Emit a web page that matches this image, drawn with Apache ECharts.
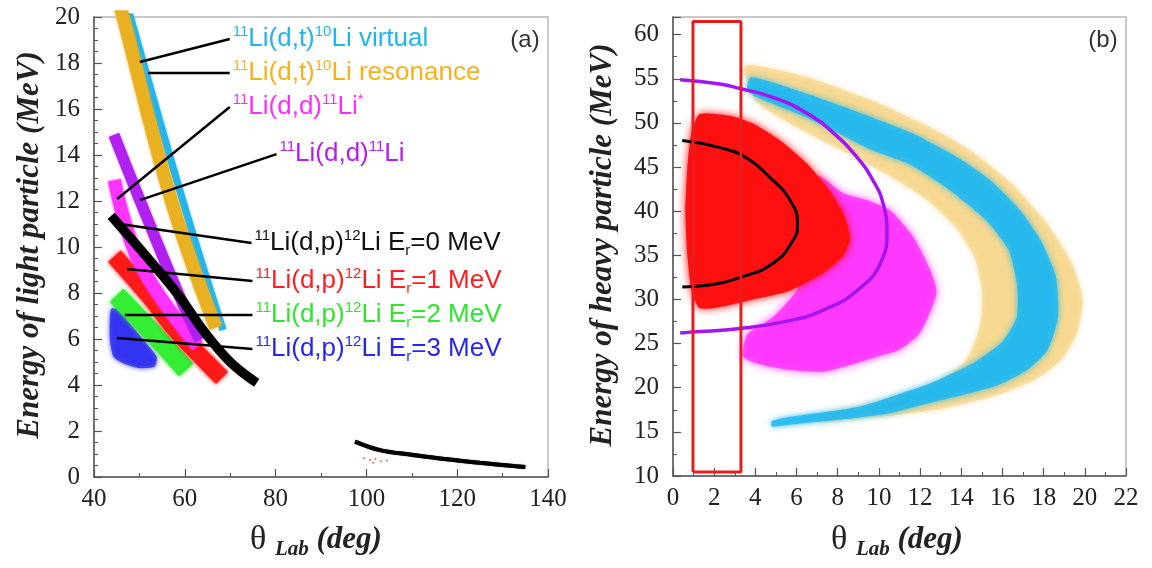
<!DOCTYPE html>
<html>
<head>
<meta charset="utf-8">
<script src="https://cdn.jsdelivr.net/npm/echarts@6.0.0/dist/echarts.min.js"></script>
<style>
  html, body { margin: 0; background: #fff; }
  #chart { width: 1152px; height: 568px; }
</style>
</head>
<body>
<div id="chart"></div>
<script>
// ---- panel (a): energy of light particle vs theta_lab ----
const bandVirtual = [[47.3, 20.5], [48.0, 20], [59.5, 12.04], [68.4, 6.4]];
const bandResonance = [[45.7, 20.5], [46.4, 20], [57.0, 12.04], [66.8, 6.5]];
const bandElastic = [[44.4, 14.87], [50.1, 12.04], [58.9, 7.83], [63.3, 5.96]];
const bandInelastic = [[44.5, 12.9], [50.1, 9.3], [62.8, 5.7]];
const bandEr0 = [[43.8, 11.35], [52.8, 9.3], [58.9, 7.83], [64.0, 6.39], [70.0, 5.0], [75.8, 4.1]];
const bandEr1 = [[44.5, 9.6], [52.3, 7.83], [58.0, 6.39], [64.9, 4.96], [68.2, 4.3]];
const bandEr2 = [[45.0, 7.9], [52.3, 6.39], [58.9, 4.96], [60.3, 4.65]];
const blobEr3 = [[43.9, 7.33], [45.7, 7.26], [47.9, 6.68], [50.9, 5.96], [53.8, 5.23], [53.4, 4.8],
  [50.1, 4.73], [46.5, 4.94], [44.3, 5.23], [43.5, 5.96], [43.5, 6.97]];
const tailEr0 = [[97.5, 1.54], [103.0, 1.17], [110.3, 0.96], [117.7, 0.77], [125.0, 0.62], [132.4, 0.48], [135.0, 0.44]];
const tailDots = [[99.5, 0.82], [100.8, 0.74], [102.0, 0.78], [103.2, 0.68], [104.5, 0.72], [101.5, 0.62]];

// leader lines [from, to] and their labels
const leaderLines = [
  [[50.1, 18.04], [69.9, 19.04]],
  [[51.9, 17.57], [69.9, 17.57]],
  [[45.1, 12.09], [69.9, 16.09]],
  [[50.1, 12.04], [80.2, 14.04]],
  [[45.7, 11.0], [74.7, 10.17]],
  [[47.3, 9.04], [74.9, 8.52]],
  [[46.8, 7.04], [74.9, 7.04]],
  [[45.1, 6.04], [74.9, 5.57]]
];
const leaderTexts = [
  '{u|11}{n|Li(d,t)}{u|10}{n|Li virtual}',
  '{u|11}{n|Li(d,t)}{u|10}{n|Li resonance}',
  '{u|11}{n|Li(d,d)}{u|11}{n|Li}{u|*}',
  '{u|11}{n|Li(d,d)}{u|11}{n|Li}',
  '{u|11}{n|Li(d,p)}{u|12}{n|Li E}{d|r}{n|=0 MeV}',
  '{u|11}{n|Li(d,p)}{u|12}{n|Li E}{d|r}{n|=1 MeV}',
  '{u|11}{n|Li(d,p)}{u|12}{n|Li E}{d|r}{n|=2 MeV}',
  '{u|11}{n|Li(d,p)}{u|12}{n|Li E}{d|r}{n|=3 MeV}'
];
const leaderColors = ['#22b4ee', '#f5b21c', '#ff2cff', '#b41ef2', '#111111', '#ff1e1e', '#2ee62e', '#2626ee'];

// ---- panel (b): energy of heavy particle vs theta_lab ----
const cyanArc = [[3.8, 55.2], [6.5, 53.3], [9.7, 50.6], [11.65, 48.8], [13.8, 46.1], [15.4, 43.5], [16.85, 40.1],
  [17.9, 36.5], [18.6, 32.5], [18.7, 28.0], [18.2, 24.3], [17.2, 22.0], [15.8, 20.3], [14.6, 19.5], [12.5, 18.3],
  [10.5, 17.1], [8.94, 16.6], [5.68, 15.8], [4.8, 15.6],
  [4.8, 16.2], [5.68, 16.7], [8.94, 17.8], [10.5, 18.9], [12.5, 20.5], [14.6, 22.8], [16.0, 25.2], [16.7, 28.0],
  [16.7, 31.8], [16.3, 35.6], [15.2, 39.0], [13.2, 42.8], [11.5, 45.3], [9.7, 46.9], [6.5, 50.6], [4.1, 52.9], [3.6, 53.8]];
const orangeArc = [[3.5, 56.5], [6.5, 55.2], [9.7, 52.5], [12.5, 49.5], [14.5, 46.8], [16.5, 43.0], [18.2, 38.5],
  [19.4, 34.0], [19.9, 30.0], [19.6, 26.0], [18.8, 23.0], [17.5, 20.8], [15.5, 19.0], [13.0, 17.6], [10.0, 16.7], [7.0, 16.1],
  [7.0, 16.9], [10.0, 18.4], [12.5, 20.3], [14.2, 23.0], [14.9, 27.0], [15.0, 31.0], [14.6, 35.0], [13.6, 38.5],
  [12.2, 41.5], [10.5, 44.0], [8.5, 46.5], [6.0, 49.5], [4.0, 52.5]];
const redCloud = [[0.9, 49.0], [1.3, 51.0], [2.77, 50.8], [3.9, 49.9], [5.2, 48.0], [6.5, 45.4], [7.48, 42.7],
  [8.26, 39.8], [8.6, 37.0], [8.3, 35.0], [7.3, 33.0], [5.68, 31.0], [4.08, 30.1], [2.43, 29.2], [1.3, 29.0],
  [0.9, 31.0], [0.7, 35.0], [0.6, 40.0], [0.7, 45.0]];
const magentaCloud = [[7.0, 44.0], [8.3, 42.0], [9.5, 41.2], [10.6, 40.0], [11.7, 37.0], [12.5, 33.3], [12.8, 30.7],
  [12.0, 26.2], [11.0, 24.3], [10.05, 23.6], [8.94, 22.8], [7.3, 21.8], [5.68, 22.0], [4.3, 22.6], [3.4, 23.5],
  [3.6, 26.0], [4.86, 28.0], [6.0, 31.0], [7.0, 36.0]];
const purpleCurve = [[0.35, 54.9], [2.28, 54.4], [3.25, 53.9], [4.86, 52.9], [6.5, 51.1], [7.77, 48.9], [8.94, 46.1],
  [9.71, 43.5], [10.2, 40.9], [10.39, 37.5], [10.15, 34.5], [8.94, 31.0], [7.3, 28.8], [5.68, 27.6], [3.25, 26.7],
  [0.83, 26.3], [0.35, 26.2]];
const blackCurve = [[0.45, 48.0], [2.28, 47.2], [3.6, 46.0], [4.71, 43.8], [5.59, 41.6], [6.05, 38.5], [5.83, 36.7],
  [4.86, 34.1], [3.25, 32.5], [1.65, 31.6], [0.45, 31.4]];
const selectBox = [[0.97, 10.45], [0.97, 61.5], [3.3, 61.5], [3.3, 10.45], [0.97, 10.45]];

function band(pts, color, width, gi, smooth, blur) {
  return {
    type: 'line', xAxisIndex: gi, yAxisIndex: gi, data: pts, smooth: smooth,
    showSymbol: false, symbol: 'none', silent: true,
    lineStyle: { color: color, width: width, cap: 'butt', shadowBlur: blur || 0, shadowColor: color }
  };
}

function cloud(pts, color, opacity, gi, blur) {
  return {
    type: 'custom', xAxisIndex: gi, yAxisIndex: gi, data: [pts[0]], silent: true,
    renderItem: function (params, api) {
      return {
        type: 'polygon',
        shape: { points: pts.map(function (p) { return api.coord(p); }), smooth: 0.2 },
        style: { fill: color, opacity: opacity, shadowBlur: blur, shadowColor: color }
      };
    }
  };
}

function richFor(color) {
  return {
    n: { fontFamily: 'Liberation Sans', fontSize: 26, color: color, lineHeight: 30 },
    u: { fontFamily: 'Liberation Sans', fontSize: 15, color: color, verticalAlign: 'top', lineHeight: 30 },
    d: { fontFamily: 'Liberation Sans', fontSize: 15, color: color, verticalAlign: 'bottom', lineHeight: 30 }
  };
}

function axis(gi, min, max, interval, minorSplit, extra) {
  return Object.assign({
    type: 'value', gridIndex: gi, min: min, max: max, interval: interval,
    axisLine: { show: true, onZero: false, lineStyle: { color: '#555', width: 1.5 } },
    axisTick: { show: true, inside: true, length: 8, lineStyle: { color: '#555', width: 1.2 } },
    minorTick: { show: true, splitNumber: minorSplit, length: 4, lineStyle: { color: '#555' } },
    splitLine: { show: false },
    axisLabel: { fontFamily: 'Liberation Serif', fontSize: 25, color: '#222', margin: 14 }
  }, extra || {});
}

const xTitleRich = {
  t: { font: '34px "Liberation Serif"', fill: '#222', lineHeight: 40 },
  s: { font: 'italic bold 21px "Liberation Serif"', fill: '#222', verticalAlign: 'bottom', lineHeight: 40 },
  d: { font: 'italic bold 31px "Liberation Serif"', fill: '#222', lineHeight: 40 }
};

const series = [
  // panel (a)
  cloud(blobEr3, '#2a2af0', 0.8, 0, 5),
  band(bandEr2, '#33ee33', 19, 0, 0.4, 4),
  band(bandEr1, '#ff1a1a', 17, 0, 0.4, 4),
  band(bandInelastic, '#ff33ff', 13, 0, 0.4, 3),
  band(bandElastic, '#b020f0', 11, 0, 0.4, 2),
  band(bandVirtual, '#22b4ee', 7, 0, 0.4, 2),
  band(bandResonance, '#e9b121', 13, 0, 0.4, 3),
  band(bandEr0, '#000000', 9, 0, 0.4, 1),
  band(tailEr0, '#000000', 4, 0, 0.4, 1),
  {
    type: 'scatter', xAxisIndex: 0, yAxisIndex: 0, data: tailDots, symbolSize: 2,
    itemStyle: { color: '#ff3030' }, silent: true
  },
  // panel (b)
  cloud(orangeArc, '#f0b428', 0.3, 1, 6),
  cloud(cyanArc, '#22b8ee', 0.85, 1, 6),
  cloud(magentaCloud, '#ff30ff', 0.8, 1, 8),
  cloud(redCloud, '#ff1010', 1, 1, 8),
  band(purpleCurve, '#a414f0', 3.5, 1, true),
  band(blackCurve, '#000000', 3, 1, true),
  band(selectBox, '#e41e1e', 3, 1, false)
];

leaderLines.forEach(function (seg, i) {
  series.push({
    type: 'line', xAxisIndex: 0, yAxisIndex: 0, data: seg, silent: true,
    showSymbol: false, symbol: 'none', z: 5,
    lineStyle: { color: '#000', width: 2.5 },
    endLabel: { show: true, distance: 3, formatter: leaderTexts[i], rich: richFor(leaderColors[i]) }
  });
});

const chart = echarts.init(document.getElementById('chart'));
chart.setOption({
  animation: false,
  backgroundColor: '#fff',
  grid: [
    { left: 94, top: 17, width: 454, height: 460, show: true, borderColor: '#b8b8b8', borderWidth: 1.5 },
    { left: 673, top: 17, width: 453, height: 459, show: true, borderColor: '#b8b8b8', borderWidth: 1.5 }
  ],
  xAxis: [
    axis(0, 40, 140, 20, 2, { axisLabel: { fontFamily: 'Liberation Serif', fontSize: 25, color: '#222', margin: 10 } }),
    axis(1, 0, 22, 2, 2, { axisLabel: { fontFamily: 'Liberation Serif', fontSize: 25, color: '#222', margin: 10 } })
  ],
  yAxis: [
    axis(0, 0, 20, 2, 4),
    axis(1, 10, 62, 5, 2, {
      axisLabel: {
        fontFamily: 'Liberation Serif', fontSize: 25, color: '#222', margin: 14,
        formatter: function (v) { return v % 5 === 0 ? String(v) : ''; }
      }
    })
  ],
  graphic: [
    { type: 'text', x: 30, y: 245, rotation: Math.PI / 2,
      style: { text: 'Energy of light particle (MeV)', font: 'italic bold 31px "Liberation Serif"', fill: '#222', align: 'center', verticalAlign: 'middle' } },
    { type: 'text', x: 603, y: 245, rotation: Math.PI / 2,
      style: { text: 'Energy of heavy particle (MeV)', font: 'italic bold 31px "Liberation Serif"', fill: '#222', align: 'center', verticalAlign: 'middle' } },
    { type: 'text', x: 316, y: 540,
      style: { text: '{t|θ }{s|Lab}{d| (deg)}', align: 'center', verticalAlign: 'middle', rich: xTitleRich } },
    { type: 'text', x: 897, y: 540,
      style: { text: '{t|θ }{s|Lab}{d| (deg)}', align: 'center', verticalAlign: 'middle', rich: xTitleRich } },
    { type: 'text', x: 525, y: 40,
      style: { text: '(a)', font: '24px "Liberation Sans"', fill: '#333', align: 'center', verticalAlign: 'middle' } },
    { type: 'text', x: 1103, y: 40,
      style: { text: '(b)', font: '24px "Liberation Sans"', fill: '#333', align: 'center', verticalAlign: 'middle' } }
  ],
  series: series
});
</script>
</body>
</html>
